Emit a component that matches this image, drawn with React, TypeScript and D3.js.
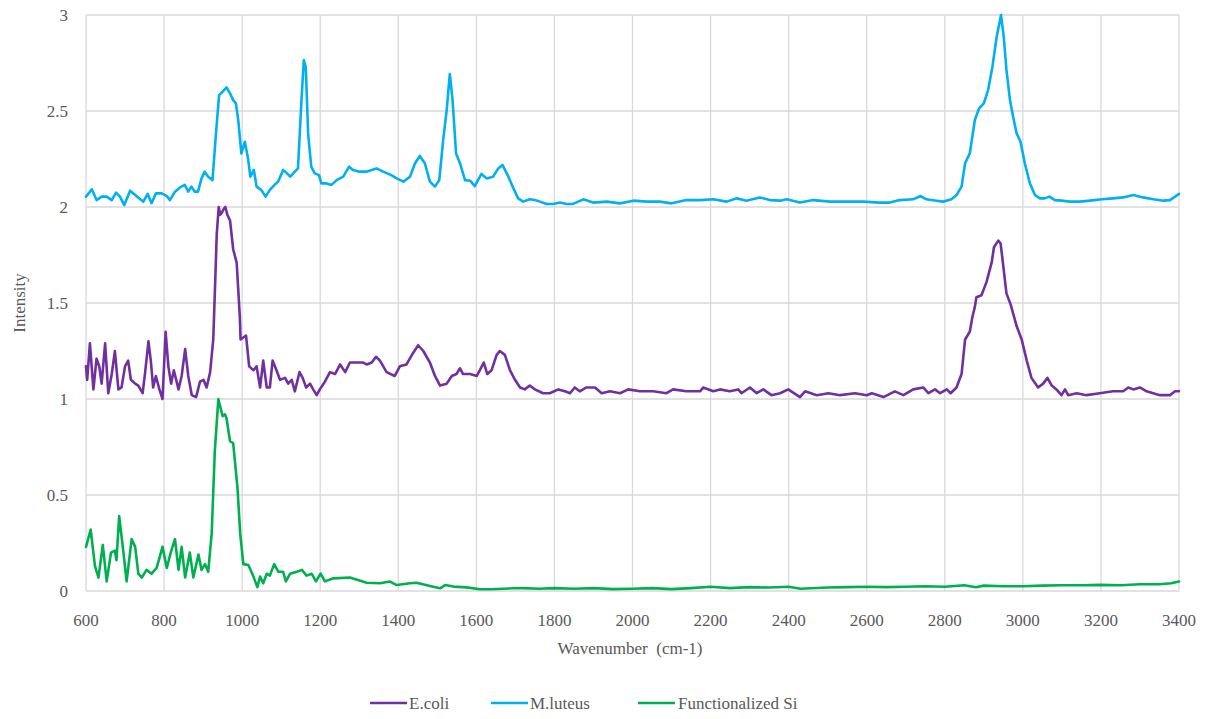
import React from "react";
import * as d3 from "d3";

// Raman spectra: wavenumber (cm-1) and intensity per sample
const ecoliWavenumber = [600, 603, 610, 619, 627, 634, 640, 649, 657, 666, 674, 683, 691, 700, 708, 715, 726, 734, 745, 751, 760, 766, 772, 779, 788, 796, 804, 811, 818, 825, 837, 845, 854, 862, 871, 882, 892, 901, 909, 918, 926, 930, 935, 940, 944, 948, 953, 957, 962, 969, 977, 986, 994, 996, 1003, 1010, 1018, 1029, 1037, 1046, 1054, 1063, 1071, 1078, 1088, 1097, 1110, 1118, 1127, 1135, 1147, 1155, 1164, 1174, 1182, 1191, 1199, 1212, 1225, 1238, 1251, 1264, 1276, 1293, 1310, 1319, 1332, 1343, 1353, 1370, 1391, 1404, 1421, 1438, 1451, 1464, 1481, 1494, 1507, 1524, 1537, 1549, 1558, 1566, 1584, 1601, 1609, 1619, 1628, 1639, 1652, 1660, 1673, 1686, 1699, 1712, 1724, 1737, 1750, 1771, 1788, 1810, 1827, 1840, 1852, 1865, 1882, 1904, 1921, 1942, 1968, 1989, 2019, 2053, 2087, 2104, 2138, 2173, 2181, 2207, 2224, 2249, 2271, 2279, 2301, 2318, 2335, 2356, 2378, 2399, 2429, 2442, 2472, 2502, 2532, 2570, 2600, 2613, 2643, 2672, 2694, 2719, 2745, 2758, 2775, 2788, 2805, 2815, 2830, 2843, 2852, 2864, 2871, 2877, 2881, 2894, 2907, 2920, 2926, 2937, 2943, 2950, 2958, 2969, 2980, 2984, 2997, 3010, 3022, 3039, 3052, 3063, 3074, 3086, 3099, 3108, 3116, 3138, 3163, 3197, 3231, 3257, 3270, 3283, 3300, 3317, 3334, 3351, 3377, 3390, 3400];
const ecoliIntensity = [1.17, 1.10, 1.29, 1.05, 1.21, 1.17, 1.08, 1.29, 1.03, 1.13, 1.25, 1.05, 1.06, 1.17, 1.20, 1.10, 1.08, 1.07, 1.03, 1.13, 1.30, 1.20, 1.06, 1.12, 1.05, 1.00, 1.35, 1.17, 1.08, 1.15, 1.05, 1.12, 1.26, 1.12, 1.02, 1.01, 1.09, 1.10, 1.06, 1.14, 1.31, 1.55, 1.86, 2.00, 1.96, 1.97, 1.99, 2.00, 1.96, 1.93, 1.78, 1.71, 1.43, 1.31, 1.32, 1.33, 1.17, 1.15, 1.17, 1.06, 1.20, 1.06, 1.06, 1.20, 1.15, 1.10, 1.11, 1.08, 1.10, 1.04, 1.14, 1.11, 1.06, 1.08, 1.05, 1.02, 1.05, 1.09, 1.14, 1.13, 1.18, 1.14, 1.19, 1.19, 1.19, 1.18, 1.19, 1.22, 1.20, 1.14, 1.12, 1.17, 1.18, 1.24, 1.28, 1.25, 1.19, 1.12, 1.07, 1.08, 1.12, 1.13, 1.16, 1.13, 1.13, 1.12, 1.15, 1.19, 1.13, 1.15, 1.23, 1.25, 1.23, 1.15, 1.10, 1.06, 1.05, 1.07, 1.05, 1.03, 1.03, 1.05, 1.04, 1.03, 1.06, 1.04, 1.06, 1.06, 1.03, 1.04, 1.03, 1.05, 1.04, 1.04, 1.03, 1.05, 1.04, 1.04, 1.06, 1.04, 1.05, 1.04, 1.05, 1.03, 1.06, 1.03, 1.05, 1.02, 1.03, 1.05, 1.01, 1.04, 1.02, 1.03, 1.02, 1.03, 1.02, 1.03, 1.01, 1.04, 1.02, 1.05, 1.06, 1.03, 1.05, 1.03, 1.05, 1.03, 1.06, 1.13, 1.31, 1.35, 1.43, 1.48, 1.53, 1.54, 1.61, 1.71, 1.79, 1.825, 1.81, 1.69, 1.55, 1.49, 1.41, 1.38, 1.31, 1.20, 1.11, 1.06, 1.08, 1.11, 1.07, 1.05, 1.02, 1.05, 1.02, 1.03, 1.02, 1.03, 1.04, 1.04, 1.06, 1.05, 1.06, 1.04, 1.03, 1.02, 1.02, 1.04, 1.04];

const luteusWavenumber = [600, 615, 627, 640, 653, 666, 677, 687, 698, 713, 726, 739, 747, 758, 768, 779, 794, 807, 815, 828, 841, 853, 862, 870, 879, 887, 896, 904, 913, 924, 933, 941, 950, 960, 969, 977, 984, 990, 998, 1007, 1015, 1021, 1030, 1037, 1049, 1060, 1071, 1083, 1092, 1105, 1115, 1123, 1135, 1143, 1152, 1158, 1163, 1169, 1177, 1186, 1197, 1203, 1216, 1229, 1242, 1259, 1274, 1284, 1301, 1318, 1344, 1361, 1382, 1396, 1413, 1430, 1443, 1455, 1468, 1481, 1494, 1505, 1515, 1524, 1532, 1539, 1548, 1558, 1571, 1584, 1596, 1613, 1626, 1643, 1656, 1667, 1682, 1695, 1707, 1720, 1737, 1750, 1763, 1780, 1797, 1814, 1831, 1848, 1874, 1899, 1934, 1968, 2002, 2036, 2070, 2100, 2138, 2173, 2207, 2241, 2267, 2292, 2326, 2352, 2378, 2395, 2429, 2463, 2506, 2548, 2591, 2634, 2659, 2685, 2719, 2738, 2753, 2779, 2796, 2817, 2830, 2843, 2852, 2864, 2877, 2888, 2900, 2911, 2922, 2933, 2944, 2951, 2958, 2967, 2975, 2984, 2994, 3005, 3018, 3031, 3044, 3056, 3068, 3082, 3099, 3120, 3146, 3172, 3202, 3231, 3257, 3283, 3308, 3334, 3360, 3377, 3390, 3400];
const luteusIntensity = [2.054, 2.092, 2.036, 2.054, 2.054, 2.036, 2.075, 2.054, 2.01, 2.085, 2.062, 2.04, 2.028, 2.068, 2.02, 2.071, 2.071, 2.057, 2.036, 2.08, 2.102, 2.115, 2.08, 2.106, 2.08, 2.08, 2.149, 2.184, 2.158, 2.14, 2.384, 2.583, 2.601, 2.623, 2.592, 2.557, 2.54, 2.453, 2.279, 2.34, 2.253, 2.158, 2.193, 2.106, 2.089, 2.054, 2.089, 2.115, 2.132, 2.193, 2.175, 2.158, 2.184, 2.201, 2.557, 2.765, 2.73, 2.384, 2.21, 2.175, 2.166, 2.123, 2.123, 2.115, 2.14, 2.158, 2.21, 2.193, 2.184, 2.184, 2.201, 2.184, 2.166, 2.149, 2.132, 2.158, 2.228, 2.266, 2.228, 2.132, 2.106, 2.14, 2.349, 2.505, 2.693, 2.557, 2.279, 2.228, 2.14, 2.137, 2.109, 2.172, 2.149, 2.158, 2.201, 2.219, 2.158, 2.097, 2.045, 2.028, 2.04, 2.036, 2.028, 2.016, 2.016, 2.023, 2.016, 2.016, 2.04, 2.023, 2.028, 2.019, 2.033, 2.028, 2.028, 2.019, 2.036, 2.036, 2.04, 2.028, 2.045, 2.033, 2.05, 2.036, 2.033, 2.04, 2.023, 2.036, 2.028, 2.028, 2.028, 2.023, 2.023, 2.036, 2.04, 2.057, 2.04, 2.033, 2.028, 2.04, 2.062, 2.106, 2.228, 2.279, 2.453, 2.514, 2.54, 2.609, 2.731, 2.887, 3.0, 2.887, 2.714, 2.557, 2.47, 2.384, 2.34, 2.228, 2.123, 2.062, 2.045, 2.045, 2.054, 2.036, 2.033, 2.028, 2.028, 2.033, 2.04, 2.045, 2.05, 2.062, 2.05, 2.04, 2.033, 2.036, 2.054, 2.068];

const siWavenumber = [600, 612, 623, 632, 643, 653, 664, 674, 678, 685, 696, 704, 717, 726, 734, 743, 755, 768, 781, 796, 807, 817, 828, 837, 845, 854, 866, 875, 888, 896, 905, 913, 922, 930, 939, 950, 956, 960, 969, 977, 988, 995, 1003, 1016, 1029, 1039, 1046, 1054, 1063, 1071, 1082, 1093, 1105, 1112, 1123, 1140, 1153, 1165, 1178, 1189, 1201, 1212, 1234, 1276, 1319, 1353, 1379, 1396, 1430, 1447, 1481, 1507, 1520, 1541, 1575, 1609, 1635, 1695, 1720, 1760, 1800, 1850, 1900, 1950, 2000, 2050, 2100, 2150, 2200, 2250, 2300, 2350, 2400, 2430, 2500, 2550, 2600, 2650, 2700, 2750, 2800, 2850, 2880, 2900, 2950, 3000, 3050, 3100, 3150, 3200, 3250, 3300, 3350, 3380, 3400];
const siIntensity = [0.23, 0.32, 0.13, 0.07, 0.24, 0.05, 0.2, 0.21, 0.16, 0.39, 0.2, 0.05, 0.27, 0.23, 0.09, 0.07, 0.11, 0.09, 0.12, 0.23, 0.12, 0.2, 0.27, 0.11, 0.23, 0.07, 0.2, 0.07, 0.19, 0.11, 0.14, 0.1, 0.3, 0.73, 1.0, 0.91, 0.92, 0.9, 0.78, 0.77, 0.54, 0.3, 0.14, 0.135, 0.075, 0.02, 0.075, 0.04, 0.09, 0.08, 0.14, 0.1, 0.1, 0.05, 0.09, 0.1, 0.11, 0.08, 0.09, 0.05, 0.09, 0.05, 0.066, 0.07, 0.043, 0.04, 0.049, 0.031, 0.04, 0.043, 0.026, 0.014, 0.031, 0.023, 0.019, 0.009, 0.009, 0.014, 0.015, 0.012, 0.015, 0.012, 0.015, 0.01, 0.012, 0.015, 0.01, 0.015, 0.022, 0.015, 0.02, 0.018, 0.022, 0.012, 0.018, 0.02, 0.022, 0.02, 0.022, 0.025, 0.022, 0.03, 0.02, 0.028, 0.025, 0.025, 0.028, 0.03, 0.03, 0.032, 0.03, 0.035, 0.035, 0.04, 0.05];

const xTicks = [600, 800, 1000, 1200, 1400, 1600, 1800, 2000, 2200, 2400, 2600, 2800, 3000, 3200, 3400];
const yTicks = [0, 0.5, 1, 1.5, 2, 2.5, 3];

const seriesNames = ["E.coli", "M.luteus", "Functionalized Si"];
const seriesColors = ["#7030A0", "#00B0F0", "#00B050"];

const W = 1214;
const H = 719;
const plot = { left: 86, right: 1179, top: 15, bottom: 591 };
const font = "'Liberation Serif', 'DejaVu Serif', 'Noto Serif', serif";
const textColor = "#595959";
const gridColor = "#d9d9d9";

export default function App() {
  const x = d3.scaleLinear().domain([600, 3400]).range([plot.left, plot.right]);
  const y = d3.scaleLinear().domain([0, 3]).range([plot.bottom, plot.top]);

  const line = d3
    .line<[number, number]>()
    .x((d) => x(d[0]))
    .y((d) => y(d[1]));

  const series = [
    { wn: ecoliWavenumber, val: ecoliIntensity },
    { wn: luteusWavenumber, val: luteusIntensity },
    { wn: siWavenumber, val: siIntensity },
  ];

  // draw order: Si, E.coli, M.luteus
  const drawOrder = [2, 0, 1];

  const legendItems = [
    { lineX: 370, textX: 409 },
    { lineX: 491, textX: 530 },
    { lineX: 638, textX: 678 },
  ];

  const textStyle = { fontFamily: font, fontSize: 17, fill: textColor } as const;

  return (
    <svg
      width={W}
      height={H}
      style={{ position: "absolute", left: 0, top: 0, background: "#fff" }}
    >
      <rect x={0} y={0} width={W} height={H} fill="#fff" />
      {/* horizontal gridlines */}
      {yTicks.map((t) => (
        <line
          key={"gy" + t}
          x1={plot.left}
          x2={plot.right}
          y1={y(t)}
          y2={y(t)}
          stroke={gridColor}
          strokeWidth={1.3}
        />
      ))}
      {/* vertical gridlines */}
      {xTicks.map((t) => (
        <line
          key={"gx" + t}
          x1={x(t)}
          x2={x(t)}
          y1={plot.top}
          y2={plot.bottom}
          stroke={gridColor}
          strokeWidth={1.3}
        />
      ))}

      {/* y tick labels */}
      {yTicks.map((t) => (
        <text
          key={"ly" + t}
          x={68}
          y={y(t)}
          dy="0.35em"
          textAnchor="end"
          style={textStyle}
        >
          {String(t)}
        </text>
      ))}
      {/* x tick labels */}
      {xTicks.map((t) => (
        <text
          key={"lx" + t}
          x={x(t)}
          y={626}
          textAnchor="middle"
          style={textStyle}
        >
          {String(t)}
        </text>
      ))}

      {/* axis titles */}
      <text
        x={630}
        y={654}
        textAnchor="middle"
        style={{ ...textStyle, whiteSpace: "pre" }}
      >
        {"Wavenumber  (cm-1)"}
      </text>
      <text
        transform={`translate(25, ${(plot.top + plot.bottom) / 2}) rotate(-90)`}
        textAnchor="middle"
        style={textStyle}
      >
        Intensity
      </text>

      {/* spectra */}
      {drawOrder.map((i) => {
        const s = series[i];
        const pts: [number, number][] = s.wn.map((w, k) => [w, s.val[k]]);
        return (
          <path
            key={"s" + i}
            d={line(pts) || ""}
            fill="none"
            stroke={seriesColors[i]}
            strokeWidth={2.6}
            strokeLinejoin="round"
            strokeLinecap="round"
          />
        );
      })}

      {/* legend */}
      {seriesNames.map((name, i) => (
        <g key={"lg" + i}>
          <line
            x1={legendItems[i].lineX}
            x2={legendItems[i].lineX + 37}
            y1={703}
            y2={703}
            stroke={seriesColors[i]}
            strokeWidth={2.6}
          />
          <text x={legendItems[i].textX} y={703} dy="0.35em" style={textStyle}>
            {name}
          </text>
        </g>
      ))}
    </svg>
  );
}
